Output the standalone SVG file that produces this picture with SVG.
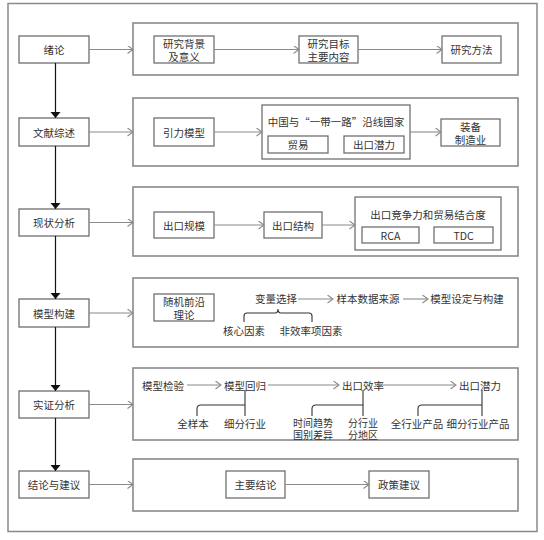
<svg xmlns="http://www.w3.org/2000/svg" width="544" height="540" viewBox="0 0 544 540">
<defs>
<style>
text{font-family:"Noto Sans CJK SC","Microsoft YaHei",sans-serif;font-size:10.5px;fill:#333;text-anchor:middle;dominant-baseline:central}
.sm{font-size:10px}
.lb{fill:#fff;stroke:#6e6e6e;stroke-width:1.3}
.pn{fill:#fff;stroke:#8a8a8a;stroke-width:1.6}
.bx{fill:#fff;stroke:#707070;stroke-width:1.3}
.ga{stroke:#8a8a8a;stroke-width:1.1;fill:none;marker-end:url(#chev)}
.bk{stroke:#111;stroke-width:1.2;fill:none;marker-end:url(#tri)}
.ln{stroke:#333;stroke-width:1.1;fill:none}
</style>
<marker id="chev" markerWidth="8" markerHeight="10" refX="6" refY="4" orient="auto" markerUnits="userSpaceOnUse">
<path d="M0.5,0 L6,4 L0.5,8" fill="none" stroke="#8a8a8a" stroke-width="1.1"/>
</marker>
<marker id="tri" markerWidth="8" markerHeight="12" refX="6" refY="5" orient="auto" markerUnits="userSpaceOnUse">
<path d="M0,0 L6,5 L0,10 Z" fill="#111"/>
</marker>
</defs>
<rect x="0" y="0" width="544" height="540" fill="#fff"/>
<rect x="8" y="3.5" width="529" height="528" fill="#fff" stroke="#8a8a8a" stroke-width="1.5"/>

<g id="n-xulun"><rect class="lb" x="19" y="36" width="70" height="27"/><text x="54" y="49.5">绪论</text></g>
<g id="n-wenxian"><rect class="lb" x="19" y="118" width="70" height="28"/><text x="54" y="132">文献综述</text></g>
<g id="n-xianzhuang"><rect class="lb" x="19" y="209" width="70" height="27"/><text x="54" y="222.5">现状分析</text></g>
<g id="n-moxing"><rect class="lb" x="19" y="299" width="70" height="28"/><text x="54" y="313">模型构建</text></g>
<g id="n-shizheng"><rect class="lb" x="19" y="391" width="70" height="27"/><text x="54" y="404.5">实证分析</text></g>
<g id="n-jielun"><rect class="lb" x="19" y="471" width="70" height="27"/><text x="54" y="484.5">结论与建议</text></g>

<g id="p1">
<rect class="pn" x="133" y="23" width="385" height="52"/>
<g id="n-bg"><rect class="bx" x="154" y="36" width="60" height="27"/><text x="184" y="43">研究背景<tspan x="184" dy="13">及意义</tspan></text></g>
<g id="n-mb"><rect class="bx" x="299" y="36" width="59" height="27"/><text x="328.5" y="43">研究目标<tspan x="328.5" dy="13">主要内容</tspan></text></g>
<g id="n-ff"><rect class="bx" x="442" y="36" width="59" height="27"/><text x="471.5" y="49.5">研究方法</text></g>
</g>

<g id="p2">
<rect class="pn" x="133" y="98" width="385" height="68"/>
<g id="n-yl"><rect class="bx" x="154" y="118" width="60" height="28"/><text x="184" y="132">引力模型</text></g>
<g id="n-zg"><rect class="bx" x="262" y="105" width="148" height="54"/><text x="336" y="121">中国与“一带一路”沿线国家</text>
<rect class="bx" x="268" y="136" width="60" height="17"/><text x="298" y="144.5">贸易</text>
<rect class="bx" x="344" y="136" width="60" height="17"/><text x="374" y="144.5">出口潜力</text></g>
<g id="n-zb"><rect class="bx" x="441" y="119" width="59" height="27"/><text x="470.5" y="126">装备<tspan x="470.5" dy="13">制造业</tspan></text></g>
</g>

<g id="p3">
<rect class="pn" x="133" y="187" width="385" height="69"/>
<g id="n-gm"><rect class="bx" x="154" y="212" width="60" height="26"/><text x="184" y="225">出口规模</text></g>
<g id="n-jg"><rect class="bx" x="264" y="212" width="58" height="26"/><text x="293" y="225">出口结构</text></g>
<g id="n-jz"><rect class="bx" x="355" y="197" width="146" height="53"/><text x="428" y="214">出口竞争力和贸易结合度</text>
<rect class="bx" x="362" y="227" width="57" height="16"/><text x="390.5" y="235">RCA</text>
<rect class="bx" x="434" y="227" width="59" height="16"/><text x="463.5" y="235">TDC</text></g>
</g>

<g id="p4">
<rect class="pn" x="133" y="278" width="385" height="69"/>
<g id="n-sj"><rect class="bx" x="154" y="294" width="60" height="27"/><text x="184" y="301">随机前沿<tspan x="184" dy="13">理论</tspan></text></g>
<g id="n-bl"><text x="276" y="298.5">变量选择</text></g>
<g id="n-yb"><text x="368" y="298.5">样本数据来源</text></g>
<g id="n-sd"><text x="467" y="298.5">模型设定与构建</text></g>
<g id="n-hx"><text x="244" y="330">核心因素</text></g>
<g id="n-fx"><text x="311" y="330">非效率项因素</text></g>
</g>

<g id="p5">
<rect class="pn" x="133" y="368" width="385" height="72"/>
<g id="n-jy"><text x="163" y="385">模型检验</text></g>
<g id="n-hg"><text x="245" y="385">模型回归</text></g>
<g id="n-xl"><text x="363" y="385">出口效率</text></g>
<g id="n-ql"><text x="480" y="385">出口潜力</text></g>
<g id="n-qyb"><text x="193" y="423">全样本</text></g>
<g id="n-xf"><text x="245" y="423">细分行业</text></g>
<g id="n-sq"><text class="sm" x="313" y="422">时间趋势<tspan x="313" dy="12">国别差异</tspan></text></g>
<g id="n-fh"><text class="sm" x="363" y="422">分行业<tspan x="363" dy="12">分地区</tspan></text></g>
<g id="n-qh"><text x="417" y="423">全行业产品</text></g>
<g id="n-xh"><text x="478" y="423">细分行业产品</text></g>
</g>

<g id="p6">
<rect class="pn" x="133" y="459" width="385" height="52"/>
<g id="n-zy"><rect class="bx" x="226" y="471" width="59" height="27"/><text x="255.5" y="484.5">主要结论</text></g>
<g id="n-zc"><rect class="bx" x="369" y="471" width="60" height="27"/><text x="399" y="484.5">政策建议</text></g>
</g>

<g id="connectors">
<path class="bk" d="M55.5,63 V118"/>
<path class="bk" d="M55.5,146 V209"/>
<path class="bk" d="M55.5,236 V299"/>
<path class="bk" d="M55.5,327 V391"/>
<path class="bk" d="M55.5,418 V471"/>
<path class="ga" d="M89,49.5 H133"/>
<path class="ga" d="M89,132 H133"/>
<path class="ga" d="M89,222.5 H133"/>
<path class="ga" d="M89,313 H133"/>
<path class="ga" d="M89,404.5 H133"/>
<path class="ga" d="M89,484.5 H133"/>
<path class="ga" d="M214,49.5 H299"/>
<path class="ga" d="M358,49.5 H442"/>
<path class="ga" d="M214,132 H262"/>
<path class="ga" d="M410,132 H441"/>
<path class="ga" d="M214,225 H264"/>
<path class="ga" d="M322,225 H355"/>
<path class="ga" d="M298,299 H333"/>
<path class="ga" d="M403,299 H428"/>
<path class="ga" d="M187,385 H221"/>
<path class="ga" d="M268,385 H339"/>
<path class="ga" d="M378,385 H456"/>
<path class="ga" d="M285,484.5 H369"/>
<path class="ln" d="M244,322 V316 Q244,313 247,313 H275 Q278,313 278,309 Q278,313 281,313 H309 Q312,313 312,316 V322"/>
<path class="ln" d="M197,416 V409 Q197,405 201,405 H245 M245,390 V416"/>
<path class="ln" d="M312,416 V409 Q312,405 316,405 H363 M363,390 V416"/>
<path class="ln" d="M418,416 V409 Q418,405 422,405 H482 M482,390 V416"/>
</g>
</svg>
